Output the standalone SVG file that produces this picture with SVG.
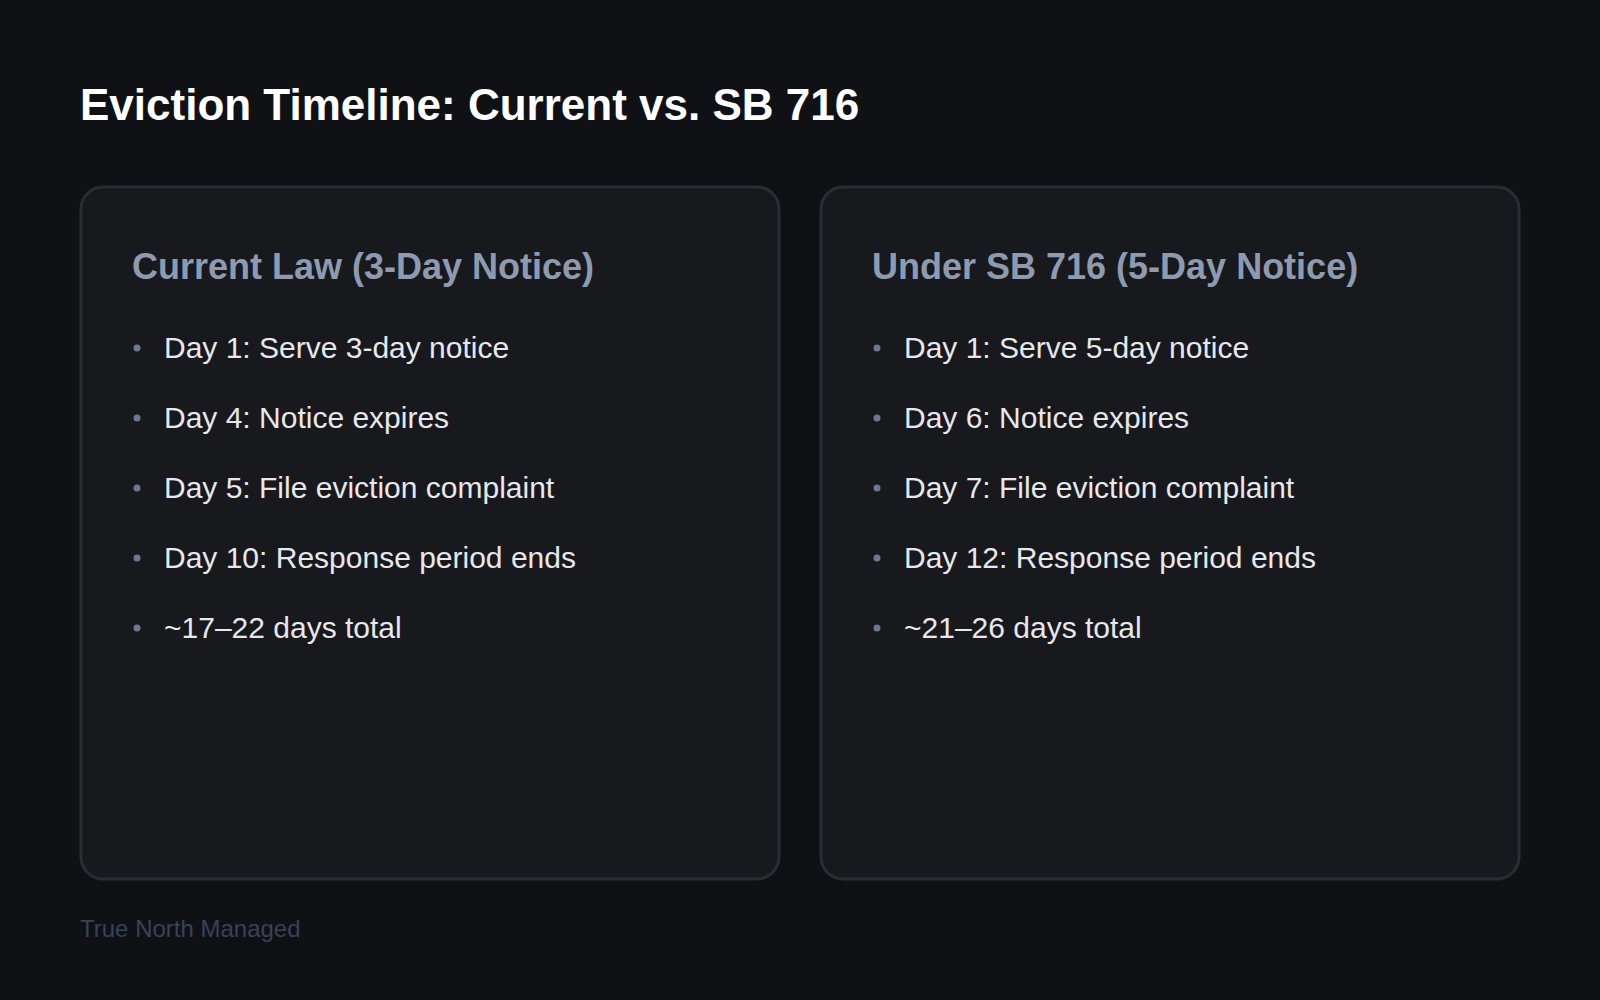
<svg xmlns="http://www.w3.org/2000/svg" width="1600" height="1000" viewBox="0 0 1600 1000">
<style>
.title{font-family:"Liberation Sans",Arial,sans-serif;font-weight:bold;font-size:44px;fill:#ffffff}
.card{fill:#18191d;stroke:#2b2c34;stroke-width:3}
.head{font-family:"Liberation Sans",Arial,sans-serif;font-weight:bold;font-size:36px;fill:#8d9bb0}
.item{font-family:"Liberation Sans",Arial,sans-serif;font-size:30px;fill:#e6e8ec}
.dot{fill:#6b7890}
.foot{font-family:"Liberation Sans",Arial,sans-serif;font-size:24px;fill:#384258}
</style>
<rect width="1600" height="1000" fill="#101115"/>
<text class="title" x="80" y="120">Eviction Timeline: Current vs. SB 716</text>
<g id="current">
<rect class="card" x="81" y="187" width="698" height="692" rx="22"/>
<text class="head" x="132" y="279">Current Law (3-Day Notice)</text>
<circle class="dot" cx="137" cy="348" r="3.5"/><text class="item" x="164" y="358">Day 1: Serve 3-day notice</text>
<circle class="dot" cx="137" cy="418" r="3.5"/><text class="item" x="164" y="428">Day 4: Notice expires</text>
<circle class="dot" cx="137" cy="488" r="3.5"/><text class="item" x="164" y="498">Day 5: File eviction complaint</text>
<circle class="dot" cx="137" cy="558" r="3.5"/><text class="item" x="164" y="568">Day 10: Response period ends</text>
<circle class="dot" cx="137" cy="628" r="3.5"/><text class="item" x="164" y="638">~17–22 days total</text>
</g>
<g id="sb716">
<rect class="card" x="821" y="187" width="698" height="692" rx="22"/>
<text class="head" x="872" y="279">Under SB 716 (5-Day Notice)</text>
<circle class="dot" cx="877" cy="348" r="3.5"/><text class="item" x="904" y="358">Day 1: Serve 5-day notice</text>
<circle class="dot" cx="877" cy="418" r="3.5"/><text class="item" x="904" y="428">Day 6: Notice expires</text>
<circle class="dot" cx="877" cy="488" r="3.5"/><text class="item" x="904" y="498">Day 7: File eviction complaint</text>
<circle class="dot" cx="877" cy="558" r="3.5"/><text class="item" x="904" y="568">Day 12: Response period ends</text>
<circle class="dot" cx="877" cy="628" r="3.5"/><text class="item" x="904" y="638">~21–26 days total</text>
</g>
<g id="connectors"/>
<text class="foot" x="80" y="937">True North Managed</text>
</svg>
